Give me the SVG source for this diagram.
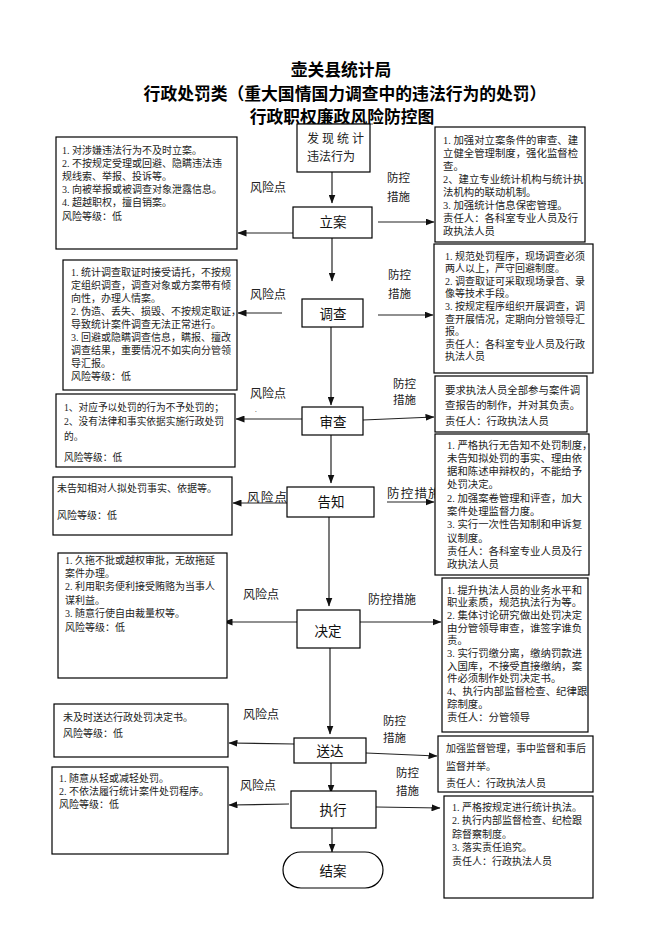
<svg xmlns="http://www.w3.org/2000/svg" width="662" height="936" viewBox="0 0 662 936">
<defs>
<marker id="ah" markerUnits="userSpaceOnUse" markerWidth="9" markerHeight="7" refX="8.5" refY="3.5" orient="auto">
<path d="M0,0 L9,3.5 L0,7 z" fill="#111"/>
</marker>
<style>
text{font-family:"Liberation Serif","Noto Sans CJK SC",serif;fill:#222}
.title{font-family:"Noto Sans CJK SC",sans-serif;font-weight:bold;font-size:16.8px;fill:#000;text-anchor:middle}
.box{fill:#fff;stroke:#000;stroke-width:1.2}
.t{font-size:10px}
.t2{font-size:10.4px}
.lbl{font-size:12px}
.lbs{font-size:11.5px}
.big{font-size:12.5px;letter-spacing:1.2px}
.nt{font-size:13.5px;text-anchor:middle;fill:#111}
.conn line{stroke:#222;stroke-width:1.2;marker-end:url(#ah)}
</style>
</defs>
<rect width="662" height="936" fill="#fff"/>
<g id="title">
<text class="title" x="341" y="76">壶关县统计局</text>
<text class="title" x="345" y="100">行政处罚类（重大国情国力调查中的违法行为的处罚）</text>
<text class="title" x="342" y="123">行政职权廉政风险防控图</text>
<line x1="298" y1="124" x2="373" y2="124" stroke="#333" stroke-width="0.8"/>
</g>

<g id="labels">
<text class="lbl" x="250" y="192">风险点</text>
<text class="lbs" x="387" y="182">防控</text><text class="lbs" x="387" y="201">措施</text>
<text class="lbl" x="250" y="299">风险点</text>
<text class="lbs" x="388" y="279">防控</text><text class="lbs" x="388" y="298">措施</text>
<text class="lbl" x="250" y="398">风险点</text><text x="255" y="412" style="font-size:7px">.</text>
<text class="lbs" x="393" y="388">防控</text><text class="lbs" x="393" y="404">措施</text>
<text class="big" x="247" y="502">风险点</text>
<text class="big" x="387" y="498">防控措施</text>
<text class="lbl" x="243" y="599">风险点</text>
<text class="lbl" x="368" y="604">防控措施</text>
<text class="lbl" x="243" y="719">风险点</text>
<text class="lbs" x="383" y="725">防控</text><text class="lbs" x="383" y="742">措施</text>
<text class="lbl" x="240" y="790">风险点</text>
<text class="lbs" x="396" y="777">防控</text><text class="lbs" x="396" y="795">措施</text>
</g>

<g class="conn" id="connectors">
<line x1="332" y1="172" x2="332" y2="203"/>
<line x1="332" y1="238" x2="332" y2="281"/>
<line x1="331" y1="327" x2="331" y2="405"/>
<line x1="331" y1="435" x2="331" y2="483"/>
<line x1="329" y1="517" x2="329" y2="606"/>
<line x1="330" y1="648" x2="330" y2="734"/>
<line x1="331" y1="763" x2="331" y2="793"/>
<line x1="332" y1="828" x2="332" y2="852"/>
<line x1="293" y1="233" x2="238" y2="233"/>
<line x1="378" y1="222" x2="434" y2="222"/>
<line x1="282" y1="313" x2="238" y2="313"/>
<line x1="378" y1="315" x2="433" y2="315"/>
<line x1="302" y1="419" x2="236" y2="419"/>
<line x1="363" y1="420" x2="434" y2="417"/>
<line x1="287" y1="503" x2="233" y2="503"/>
<line x1="387" y1="502" x2="434" y2="502"/>
<line x1="297" y1="622" x2="224" y2="622"/>
<line x1="360" y1="622" x2="441" y2="622"/>
<line x1="294" y1="744" x2="229" y2="743"/>
<line x1="366" y1="753" x2="437" y2="756"/>
<line x1="289" y1="804" x2="229" y2="805"/>
<line x1="376" y1="807" x2="440" y2="808"/>
</g>

<g id="n-start"><rect class="box" x="297" y="124" width="73" height="48"/>
<text x="307" y="143" style="font-size:12px;letter-spacing:3px">发现统计</text>
<text x="307" y="161" style="font-size:12px">违法行为</text></g>
<g id="n-lian"><rect class="box" x="293" y="207" width="79" height="31"/><text class="nt" x="333" y="227">立案</text></g>
<g id="n-diaocha"><rect class="box" x="302" y="299" width="61" height="28"/><text class="nt" x="333" y="319">调查</text></g>
<g id="n-shencha"><rect class="box" x="302" y="407" width="61" height="28"/><text class="nt" x="333" y="427">审查</text></g>
<g id="n-gaozhi"><rect class="box" x="287" y="487" width="87" height="30"/><text class="nt" x="331" y="507">告知</text></g>
<g id="n-jueding"><rect class="box" x="297" y="610" width="63" height="38"/><text class="nt" x="328" y="636">决定</text></g>
<g id="n-songda"><rect class="box" x="294" y="738" width="72" height="25"/><text class="nt" x="330" y="756">送达</text></g>
<g id="n-zhixing"><rect class="box" x="291" y="791" width="85" height="37"/><text class="nt" x="333" y="815">执行</text></g>
<g id="n-end"><rect class="box" x="283" y="852" width="100" height="36" rx="18"/><text class="nt" x="333" y="876">结案</text></g>

<g id="risk1"><rect class="box" x="56" y="137" width="181" height="112"/>
<text class="t" x="62" y="153.5"><tspan x="62">1. 对涉嫌违法行为不及时立案。</tspan><tspan x="62" dy="13.2">2. 不按规定受理或回避、隐瞒违法违</tspan><tspan x="62" dy="13.2">规线索、举报、投诉等。</tspan><tspan x="62" dy="13.2">3. 向被举报或被调查对象泄露信息。</tspan><tspan x="62" dy="13.2">4. 超越职权，擅自销案。</tspan><tspan x="62" dy="13.2">风险等级：低</tspan></text></g>
<g id="ctrl1"><rect class="box" x="435" y="127" width="150" height="115"/>
<text class="t2" x="443" y="143.5"><tspan x="443">1. 加强对立案条件的审查、建</tspan><tspan x="443" dy="13">立健全管理制度，强化监督检</tspan><tspan x="443" dy="13">查。</tspan><tspan x="443" dy="13">2、建立专业统计机构与统计执</tspan><tspan x="443" dy="13">法机构的联动机制。</tspan><tspan x="443" dy="13">3. 加强统计信息保密管理。</tspan><tspan x="443" dy="13">责任人：各科室专业人员及行</tspan><tspan x="443" dy="13">政执法人员</tspan></text></g>

<g id="risk2"><rect class="box" x="63" y="260" width="174" height="130"/>
<text class="t" x="71" y="275.5"><tspan x="71">1. 统计调查取证时接受请托，不按规</tspan><tspan x="71" dy="13.1">定组织调查，调查对象或方案带有倾</tspan><tspan x="71" dy="13.1">向性，办理人情案。</tspan><tspan x="71" dy="13.1">2. 伪造、丢失、损毁、不按规定取证，</tspan><tspan x="71" dy="13.1">导致统计案件调查无法正常进行。</tspan><tspan x="71" dy="13.1">3. 回避或隐瞒调查信息，瞒报、擅改</tspan><tspan x="71" dy="13.1">调查结果，重要情况不如实向分管领</tspan><tspan x="71" dy="13.1">导汇报。</tspan><tspan x="71" dy="13.1">风险等级：低</tspan></text></g>
<g id="ctrl2"><rect class="box" x="434" y="244" width="159" height="129"/>
<text class="t" x="445" y="259.5"><tspan x="445">1. 规范处罚程序，现场调查必须</tspan><tspan x="445" dy="12.6">两人以上，严守回避制度。</tspan><tspan x="445" dy="12.6">2. 调查取证可采取现场录音、录</tspan><tspan x="445" dy="12.6">像等技术手段。</tspan><tspan x="445" dy="12.6">3. 按规定程序组织开展调查，调</tspan><tspan x="445" dy="12.6">查开展情况，定期向分管领导汇</tspan><tspan x="445" dy="12.6">报。</tspan><tspan x="445" dy="12.6">责任人：各科室专业人员及行政</tspan><tspan x="445" dy="12.6">执法人员</tspan></text></g>

<g id="risk3"><rect class="box" x="56" y="394" width="179" height="73"/>
<text class="t" x="64" y="410.5" style="font-size:9.7px"><tspan x="64">1、对应予以处罚的行为不予处罚的；</tspan><tspan x="64" dy="14.5">2、没有法律和事实依据实施行政处罚</tspan><tspan x="64" dy="14.5">的。</tspan><tspan x="64" dy="21">风险等级：低</tspan></text></g>
<g id="ctrl3"><rect class="box" x="435" y="376" width="152" height="56"/>
<text class="t2" x="445" y="393.5"><tspan x="445">要求执法人员全部参与案件调</tspan><tspan x="445" dy="15.5">查报告的制作，并对其负责。</tspan><tspan x="445" dy="15.5">责任人：行政执法人员</tspan></text></g>

<g id="risk4"><rect class="box" x="53" y="477" width="179" height="58"/>
<text class="t" x="57" y="491.5"><tspan x="57">未告知相对人拟处罚事实、依据等。</tspan><tspan x="57" dy="27">风险等级：低</tspan></text></g>
<g id="ctrl4"><rect class="box" x="435" y="434" width="154" height="141"/>
<text class="t2" x="447" y="448.5"><tspan x="447">1. 严格执行无告知不处罚制度，</tspan><tspan x="447" dy="13.3">未告知拟处罚的事实、理由依</tspan><tspan x="447" dy="13.3">据和陈述申辩权的，不能给予</tspan><tspan x="447" dy="13.3">处罚决定。</tspan><tspan x="447" dy="13.3">2. 加强案卷管理和评查，加大</tspan><tspan x="447" dy="13.3">案件处理监督力度。</tspan><tspan x="447" dy="13.3">3. 实行一次性告知制和申诉复</tspan><tspan x="447" dy="13.3">议制度。</tspan><tspan x="447" dy="13.3">责任人：各科室专业人员及行</tspan><tspan x="447" dy="13.3">政执法人员</tspan></text></g>

<g id="risk5"><rect class="box" x="58" y="553" width="169" height="125"/>
<text class="t" x="65" y="563.5"><tspan x="65">1. 久拖不批或越权审批，无故拖延</tspan><tspan x="65" dy="13.4">案件办理。</tspan><tspan x="65" dy="13.4">2. 利用职务便利接受贿赂为当事人</tspan><tspan x="65" dy="13.4">谋利益。</tspan><tspan x="65" dy="13.4">3. 随意行使自由裁量权等。</tspan><tspan x="65" dy="13.4">风险等级：低</tspan></text></g>
<g id="ctrl5"><rect class="box" x="442" y="578" width="146" height="154"/>
<text class="t2" x="447" y="593.5"><tspan x="447">1. 提升执法人员的业务水平和</tspan><tspan x="447" dy="12.7">职业素质，规范执法行为等。</tspan><tspan x="447" dy="12.7">2. 集体讨论研究做出处罚决定</tspan><tspan x="447" dy="12.7">由分管领导审查，谁签字谁负</tspan><tspan x="447" dy="12.7">责。</tspan><tspan x="447" dy="12.7">3. 实行罚缴分离，缴纳罚款进</tspan><tspan x="447" dy="12.7">入国库，不接受直接缴纳，案</tspan><tspan x="447" dy="12.7">件必须制作处罚决定书。</tspan><tspan x="447" dy="12.7">4、执行内部监督检查、纪律跟</tspan><tspan x="447" dy="12.7">踪制度。</tspan><tspan x="447" dy="12.7">责任人：分管领导</tspan></text></g>

<g id="risk6"><rect class="box" x="54" y="704" width="174" height="53"/>
<text class="t" x="63" y="720.5"><tspan x="63">未及时送达行政处罚决定书。</tspan><tspan x="63" dy="16">风险等级：低</tspan></text></g>
<g id="ctrl6"><rect class="box" x="438" y="736" width="155" height="56"/>
<text class="t" x="446" y="751.5"><tspan x="446">加强监督管理，事中监督和事后</tspan><tspan x="446" dy="18">监督并举。</tspan><tspan x="446" dy="17">责任人：行政执法人员</tspan></text></g>

<g id="risk7"><rect class="box" x="52" y="767" width="176" height="87"/>
<text class="t" x="59" y="781.5"><tspan x="59">1. 随意从轻或减轻处罚。</tspan><tspan x="59" dy="13.5">2. 不依法履行统计案件处罚程序。</tspan><tspan x="59" dy="13">风险等级：低</tspan></text></g>
<g id="ctrl7"><rect class="box" x="444" y="796" width="149" height="102"/>
<text class="t" x="452" y="810.5"><tspan x="452">1. 严格按规定进行统计执法。</tspan><tspan x="452" dy="13.6">2. 执行内部监督检查、纪检跟</tspan><tspan x="452" dy="13.6">踪督察制度。</tspan><tspan x="452" dy="13.6">3. 落实责任追究。</tspan><tspan x="452" dy="13.6">责任人：行政执法人员</tspan></text></g>
</svg>
